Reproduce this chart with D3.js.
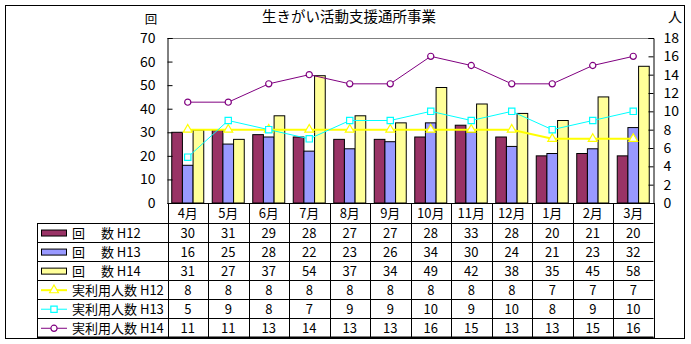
<!DOCTYPE html>
<html><head><meta charset="utf-8">
<script src="https://cdn.jsdelivr.net/npm/d3@7"></script>
<style>body{margin:0;background:#fff}svg{display:block}text{font-family:"Noto Sans CJK JP","Noto Sans",sans-serif;fill:#000}</style>
</head><body>
<script>
const categories = ["4月","5月","6月","7月","8月","9月","10月","11月","12月","1月","2月","3月"];
const barH12 = [30,31,29,28,27,27,28,33,28,20,21,20];
const barH13 = [16,25,28,22,23,26,34,30,24,21,23,32];
const barH14 = [31,27,37,54,37,34,49,42,38,35,45,58];
const lineH12 = [8,8,8,8,8,8,8,8,8,7,7,7];
const lineH13 = [5,9,8,7,9,9,10,9,10,8,9,10];
const lineH14 = [11,11,13,14,13,13,16,15,13,13,15,16];
const leftTicks = [0,10,20,30,40,50,60,70];
const rightTicks = [0,2,4,6,8,10,12,14,16,18];
const title = "生きがい活動支援通所事業";

const barSeries = [
  {name:"回\u3000 数 H12", values:barH12, color:"#993366"},
  {name:"回\u3000 数 H13", values:barH13, color:"#9999FF"},
  {name:"回\u3000 数 H14", values:barH14, color:"#FFFF99"}
];
const lineSeries = [
  {name:"実利用人数 H12", values:lineH12, color:"#FFFF00", marker:"triangle", width:2},
  {name:"実利用人数 H13", values:lineH13, color:"#00FFFF", marker:"square", width:1},
  {name:"実利用人数 H14", values:lineH14, color:"#800080", marker:"circle", width:1}
];

const W=691,H=344;
const svg=d3.select("body").append("svg").attr("width",W).attr("height",H);
const L=167.5, R=653.5, T=38, B=203;
const x=d3.scaleBand().domain(categories).range([L,R]).paddingInner(0.21).paddingOuter(0.105);
const xs=d3.scaleBand().domain(d3.range(3)).range([0,x.bandwidth()]);
const step=(R-L)/categories.length;
const cx=c=>L+step*categories.indexOf(c)+step/2;
const yL=d3.scaleLinear().domain([0,70]).range([B,T]);
const yR=d3.scaleLinear().domain([0,18]).range([B,T]);

// outer border
svg.append("rect").attr("x",5.5).attr("y",5.5).attr("width",679).attr("height",333).attr("fill","none").attr("stroke","#000");

// title
svg.append("text").attr("x",349).attr("y",22).attr("text-anchor","middle").attr("font-size",14.5).text(title);
svg.append("text").attr("x",151).attr("y",24).attr("text-anchor","middle").attr("font-size",12.5).text("回");
svg.append("text").attr("x",675).attr("y",22).attr("text-anchor","middle").attr("font-size",14).text("人");

// top plot border
svg.append("line").attr("x1",L).attr("x2",R).attr("y1",T+0.5).attr("y2",T+0.5).attr("stroke","#808080");

// bars
barSeries.forEach((s,i)=>{
  svg.append("g").selectAll("rect").data(s.values).join("rect")
    .attr("x",(d,j)=>x(categories[j])+xs(i))
    .attr("y",d=>yL(d))
    .attr("width",xs.bandwidth())
    .attr("height",d=>B-yL(d))
    .attr("fill",s.color).attr("stroke","#000").attr("stroke-width",1);
});

// axes
const gl=svg.append("g").attr("transform",`translate(${L},0)`)
  .call(d3.axisLeft(yL).tickValues(leftTicks).tickSize(-5).tickPadding(12).tickFormat(d3.format("d")));
gl.select(".domain").attr("stroke","#000");
gl.selectAll("text").attr("font-size",14).attr("font-family",'"Liberation Sans",Arial,sans-serif');
const gr=svg.append("g").attr("transform",`translate(${R},0)`)
  .call(d3.axisRight(yR).tickValues(rightTicks).tickSize(-5).tickPadding(10).tickFormat(d3.format("d")));
gr.selectAll("text").attr("font-size",14).attr("font-family",'"Liberation Sans",Arial,sans-serif');

// lines
const symbolMap={triangle:d3.symbolTriangle,square:d3.symbolSquare,circle:d3.symbolCircle};
const sizeMap={triangle:34,square:40,circle:30};
lineSeries.forEach(s=>{
  const line=d3.line().x((d,j)=>cx(categories[j])).y(d=>yR(d));
  svg.append("path").attr("d",line(s.values)).attr("fill","none").attr("stroke",s.color).attr("stroke-width",s.width);
  svg.append("g").selectAll("path").data(s.values).join("path")
    .attr("transform",(d,j)=>`translate(${cx(categories[j])},${yR(d)})`)
    .attr("d",d3.symbol(symbolMap[s.marker],sizeMap[s.marker]))
    .attr("fill","#fff").attr("stroke",s.color).attr("stroke-width",1.2);
});

// baseline
svg.append("line").attr("x1",L).attr("x2",R).attr("y1",B+0.5).attr("y2",B+0.5).attr("stroke","#000");

// table
const rowTop=223.5, rowH=19.05;
const tbl=svg.append("g");
categories.forEach(c=>{
  tbl.append("text").attr("x",cx(c)).attr("y",218).attr("text-anchor","middle").attr("font-size",13).text(c);
});
for(let i=0;i<=categories.length;i++){
  const xx=Math.round(L+step*i)+0.5;
  tbl.append("line").attr("x1",xx).attr("x2",xx).attr("y1",B).attr("y2",338).attr("stroke","#000");
}
tbl.append("line").attr("x1",37.5).attr("x2",37.5).attr("y1",rowTop).attr("y2",338).attr("stroke","#000");
for(let r=0;r<=6;r++){
  const yy=Math.round(rowTop+rowH*r-0.5)+0.5;
  tbl.append("line").attr("x1",37).attr("x2",R).attr("y1",yy).attr("y2",yy).attr("stroke","#000");
}
tbl.append("line").attr("x1",37).attr("x2",R).attr("y1",337.5).attr("y2",337.5).attr("stroke","#000").attr("stroke-width",2);

const rows=[...barSeries.map(s=>({...s,kind:"bar"})),...lineSeries.map(s=>({...s,kind:"line"}))];
rows.forEach((s,r)=>{
  const yc=rowTop+rowH*r+rowH/2;
  if(s.kind==="bar"){
    tbl.append("rect").attr("x",41.5).attr("y",yc-3).attr("width",25).attr("height",6).attr("fill",s.color).attr("stroke","#000");
  } else {
    tbl.append("line").attr("x1",41).attr("x2",67).attr("y1",yc).attr("y2",yc).attr("stroke",s.color).attr("stroke-width",s.width);
    tbl.append("path").attr("transform",`translate(54,${yc})`).attr("d",d3.symbol(symbolMap[s.marker],sizeMap[s.marker]))
      .attr("fill","#fff").attr("stroke",s.color).attr("stroke-width",1.2);
  }
  tbl.append("text").attr("x",72).attr("y",yc+5).attr("font-size",13).text(s.name);
  s.values.forEach((v,j)=>{
    tbl.append("text").attr("x",cx(categories[j])).attr("y",yc+5).attr("text-anchor","middle").attr("font-size",13).text(v);
  });
});
</script>
</body></html>
